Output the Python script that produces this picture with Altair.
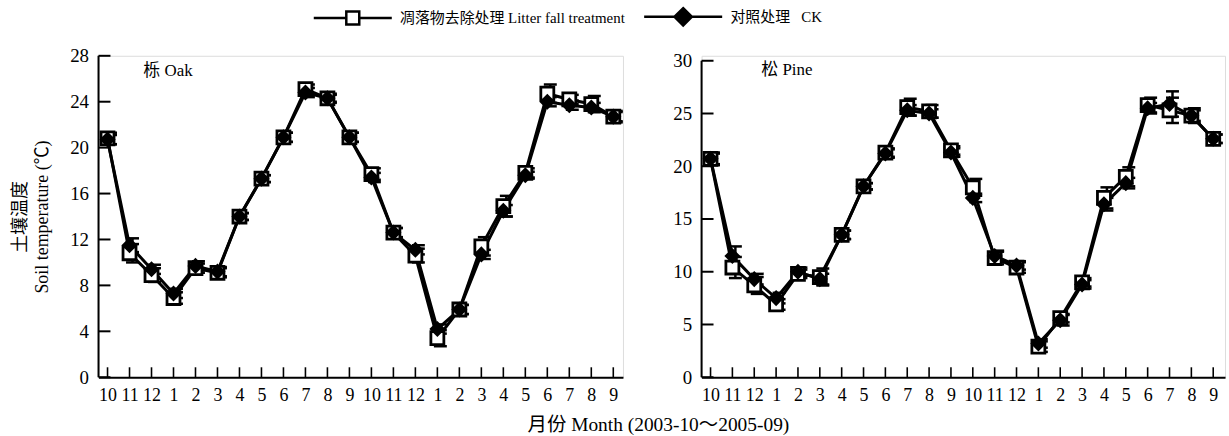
import altair as alt
import pandas as pd

# x-axis month labels, Oct 2003 .. Sep 2005
months = ["10", "11", "12", "1", "2", "3", "4", "5", "6", "7", "8", "9",
          "10", "11", "12", "1", "2", "3", "4", "5", "6", "7", "8", "9"]

series_names = ["凋落物去除处理 Litter fall treatment", "对照处理\u2002 CK"]

# Oak stand: litter-removal treatment and control, mean and error
oak_lf = [20.8, 10.8, 8.9, 6.9, 9.5, 9.1, 14.0, 17.3, 20.9, 25.1, 24.3, 20.9,
          17.7, 12.6, 10.6, 3.4, 5.9, 11.4, 14.9, 17.8, 24.7, 24.2, 23.8, 22.7]
oak_lf_se = [0.5, 0.8, 0.6, 0.5, 0.4, 0.4, 0.3, 0.3, 0.4, 0.4, 0.4, 0.4,
             0.5, 0.4, 0.6, 0.7, 0.4, 0.8, 0.9, 0.4, 0.8, 0.4, 0.7, 0.5]
oak_ck = [20.7, 11.5, 9.4, 7.3, 9.7, 9.2, 14.0, 17.3, 20.9, 24.8, 24.3, 20.9,
          17.4, 12.6, 11.1, 4.2, 5.9, 10.7, 14.5, 17.6, 24.0, 23.7, 23.5, 22.7]
oak_ck_se = [0.4, 0.6, 0.4, 0.4, 0.4, 0.4, 0.3, 0.3, 0.4, 0.4, 0.3, 0.4,
             0.4, 0.4, 0.4, 0.4, 0.4, 0.4, 0.5, 0.3, 0.4, 0.4, 0.4, 0.4]

# Pine stand
pine_lf = [20.7, 10.4, 8.7, 6.9, 9.8, 9.5, 13.5, 18.1, 21.3, 25.6, 25.2, 21.5,
           18.0, 11.3, 10.4, 2.9, 5.6, 9.0, 17.0, 19.0, 25.8, 25.3, 24.8, 22.6]
pine_lf_se = [0.6, 1.0, 0.8, 0.5, 0.4, 0.8, 0.4, 0.3, 0.4, 0.8, 0.6, 0.4,
              0.8, 0.6, 0.5, 0.5, 0.4, 0.4, 1.0, 0.9, 0.7, 1.2, 0.7, 0.4]
pine_ck = [20.7, 11.5, 9.3, 7.5, 10.0, 9.3, 13.5, 18.1, 21.2, 25.3, 25.0, 21.3,
           17.0, 11.5, 10.6, 3.2, 5.4, 8.8, 16.4, 18.4, 25.5, 25.9, 24.8, 22.6]
pine_ck_se = [0.5, 0.9, 0.5, 0.5, 0.4, 0.5, 0.4, 0.3, 0.4, 0.5, 0.4, 0.4,
              0.4, 0.5, 0.4, 0.4, 0.5, 0.4, 0.6, 0.5, 0.5, 1.2, 0.5, 0.4]

oak_ticks = [0, 4, 8, 12, 16, 20, 24, 28]
pine_ticks = [0, 5, 10, 15, 20, 25, 30]

FONT = 'Liberation Serif, "Noto Sans CJK SC", serif'

# legend glyphs: a line with an open square / a filled diamond in the middle
PATH_LF = "M-5.6,0L-0.93,0M0.93,0L5.6,0M-0.93,-0.93L0.93,-0.93L0.93,0.93L-0.93,0.93Z"
PATH_CK = "M-5.6,0L5.6,0M0,-1.25L1.25,0L0,1.25L-1.25,0Z"

label_expr = "[" + ",".join("'%s'" % m for m in months) + "][datum.value]"


def long_frame(lf, lf_se, ck, ck_se):
    rows = []
    for name, vals, errs in ((series_names[0], lf, lf_se), (series_names[1], ck, ck_se)):
        for i, (v, e) in enumerate(zip(vals, errs)):
            rows.append({"idx": i, "series": name, "value": v,
                         "lo": round(v - e, 2), "hi": round(v + e, 2)})
    return pd.DataFrame(rows)


def panel(df, ticks, ydom, xdom, width, height, name, title_dx, title_off,
          ytitle=None, with_legend=False):
    xs = alt.Scale(domain=xdom, nice=False, zero=False)
    ys = alt.Scale(domain=ydom, nice=False, zero=False)
    xaxis = alt.Axis(values=list(range(len(months))), labelExpr=label_expr,
                     ticks=False, tickSize=0, domain=True, domainColor="black",
                     domainWidth=2, grid=False, labelPadding=9, labelFontSize=18,
                     labelFlush=False, labelOverlap=False, labelColor="black",
                     labelFont=FONT, title=None)
    yargs = dict(values=ticks, ticks=False, tickSize=0, domain=False, grid=False,
                 labelPadding=10, labelFontSize=19, labelColor="black", labelFont=FONT)
    if ytitle:
        yargs.update(title=ytitle, titleFont=FONT, titleFontSize=18,
                     titleFontWeight="normal", titleColor="black", titlePadding=18,
                     titleLineHeight=22)
    else:
        yargs.update(title=None)
    yaxis = alt.Axis(**yargs)

    X = lambda f: alt.X(f, scale=xs, axis=xaxis)
    Y = lambda f: alt.Y(f, scale=ys, axis=yaxis)

    base = alt.Chart(df)

    # y-axis line and inward ticks on both axes
    yline = alt.Chart(pd.DataFrame({"lo": [ticks[0]], "hi": [ticks[-1]]})).mark_rule(
        color="black", strokeWidth=2).encode(x=alt.value(0), y=Y("lo:Q"), y2="hi:Q")
    ytk = alt.Chart(pd.DataFrame({"t": ticks})).mark_tick(
        color="black", thickness=2, size=12, orient="horizontal", opacity=1).encode(
        x=alt.value(6), y=Y("t:Q"))
    xtk = alt.Chart(pd.DataFrame({"i": list(range(len(months)))})).mark_tick(
        color="black", thickness=1.6, size=10, orient="vertical", opacity=1).encode(
        x=X("i:Q"), y=alt.value(height - 5))

    line = base.mark_line(color="black", strokeWidth=3).encode(
        x=X("idx:Q"), y=Y("value:Q"), detail="series:N")
    err = base.mark_rule(color="black", strokeWidth=2.5, xOffset=3).encode(
        x=X("idx:Q"), y=Y("lo:Q"), y2="hi:Q")
    cap_lo = base.mark_tick(color="black", thickness=2.5, size=13, orient="horizontal",
                            xOffset=3, opacity=1).encode(x=X("idx:Q"), y=Y("lo:Q"))
    cap_hi = base.mark_tick(color="black", thickness=2.5, size=13, orient="horizontal",
                            xOffset=3, opacity=1).encode(x=X("idx:Q"), y=Y("hi:Q"))
    sq = base.transform_filter(alt.datum.series == series_names[0]).mark_point(
        shape="square", size=170, filled=True, fill="white", stroke="black",
        strokeWidth=2.8, opacity=1).encode(x=X("idx:Q"), y=Y("value:Q"))
    dm = base.transform_filter(alt.datum.series == series_names[1]).mark_point(
        shape="diamond", size=260, filled=True, color="black", opacity=1).encode(
        x=X("idx:Q"), y=Y("value:Q"))

    layers = [line, yline, err, cap_lo, cap_hi, sq, dm, ytk, xtk]

    if with_legend:
        leg = alt.Legend(orient="none", legendX=247, legendY=-48, direction="horizontal",
                         title=None, symbolSize=196, symbolStrokeWidth=2.5,
                         symbolOpacity=1,
                         labelFont=FONT, labelFontSize=15, labelColor="black",
                         labelOffset=39, columnPadding=13, labelLimit=1000)
        carrier = alt.Chart(pd.DataFrame({"series": series_names})).mark_point(
            opacity=0, filled=False, strokeWidth=2.5, size=196).encode(
            x=alt.value(0), y=alt.value(0),
            shape=alt.Shape("series:N", legend=leg,
                            scale=alt.Scale(domain=series_names, range=[PATH_LF, PATH_CK])),
            fill=alt.Fill("series:N", legend=leg,
                          scale=alt.Scale(domain=series_names, range=["white", "black"])),
            stroke=alt.Stroke("series:N", legend=leg,
                              scale=alt.Scale(domain=series_names, range=["black", "black"])))
        layers.append(carrier)

    return alt.layer(*layers).properties(
        width=width, height=height,
        title=alt.TitleParams(text=name, anchor="start", frame="group", dx=title_dx,
                              offset=title_off, fontSize=17, fontWeight="normal",
                              font=FONT, color="black"))


oak = panel(long_frame(oak_lf, oak_lf_se, oak_ck, oak_ck_se), oak_ticks,
            [0, 28], [-0.41, 23.44], 527, 323, "栎 Oak", 45, -33,
            ytitle=["土壤温度", "Soil temperature (℃)"], with_legend=True)
pine = panel(long_frame(pine_lf, pine_lf_se, pine_ck, pine_ck_se), pine_ticks,
             [0, 30.47], [-0.41, 23.54], 526, 323, "松 Pine", 60, -27)

chart = alt.hconcat(oak, pine, spacing=46).properties(
    title=alt.TitleParams(text="月份 Month (2003-10～2005-09)", orient="bottom",
                          anchor="middle", fontSize=19.5, fontWeight="normal",
                          font=FONT, color="black", offset=12, dx=40),
    padding={"left": 11, "top": 7, "right": 3, "bottom": 3},
).configure_view(stroke=None).configure(font=FONT, background="white")

chart.save("out.html", embed_options={"renderer": "svg", "actions": False})
